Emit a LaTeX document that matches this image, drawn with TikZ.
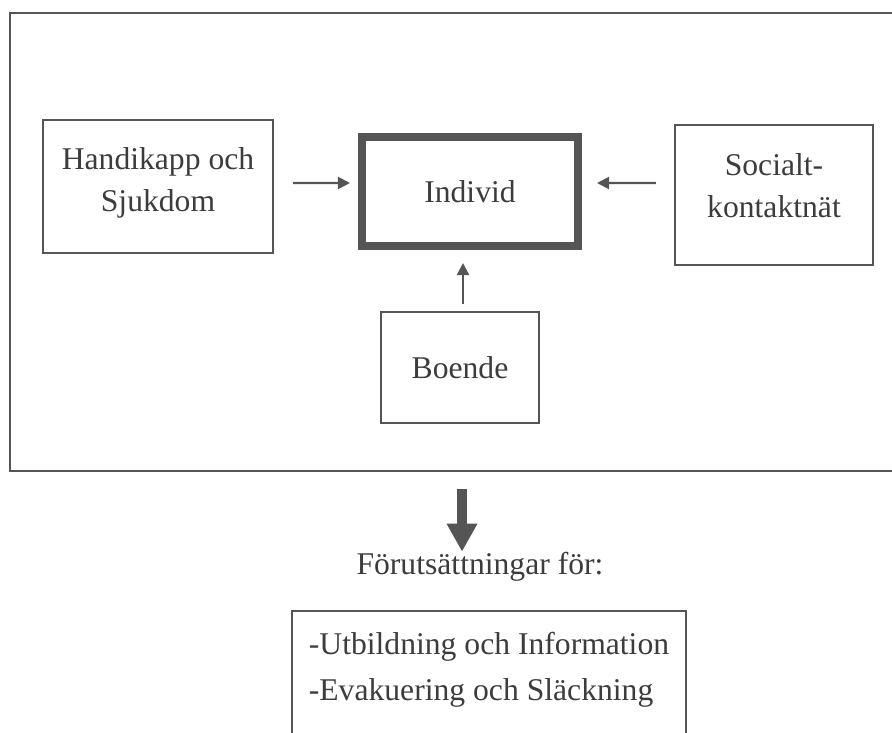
\documentclass[tikz,border=0pt]{standalone}
\usepackage{fontspec}
\setmainfont{Liberation Serif}
\usetikzlibrary{arrows.meta}
\definecolor{ink}{HTML}{555555}
\definecolor{txt}{HTML}{3c3c3c}
\tikzset{
  ruta/.style={draw=ink, line width=1.4pt, text=txt, align=center, font=\fontsize{22.5}{30}\selectfont},
  pil/.style={draw=ink, line width=1.5pt, -{Triangle[length=0.3cm,width=0.3cm]}},
  storpil/.style={draw=ink, line width=0.27cm, -{Triangle[length=0.7cm,width=0.72cm]}}
}
\begin{document}
\begin{tikzpicture}[x=0.025cm,y=-0.025cm]
      \useasboundingbox (0,0) rectangle (892,732);

      % Ram
      \node[ruta, minimum width=22.25cm, minimum height=11.45cm] (ram) at (455,242) {};

      % Faktorer
      \node[ruta, text depth=9.5pt, minimum width=5.75cm, minimum height=3.325cm] (handikapp) at (158,186.5) {Handikapp och\\Sjukdom};
      \node[ruta, line width=0.2cm, minimum width=5.4cm, minimum height=2.725cm] (individ) at (470,191.5) {Individ};
      \node[ruta, text depth=14pt, minimum width=4.95cm, minimum height=3.5cm] (socialt) at (774,195) {Socialt-\\kontaktnät};
      \node[ruta, minimum width=3.95cm, minimum height=2.775cm] (boende) at (460,367.5) {Boende};

      % Pilar
      \draw[pil, shorten <=0.475cm, shorten >=0.2cm] ([yshift=0.0875cm]handikapp.east) -- ([yshift=0.2125cm]individ.west);
      \draw[pil, shorten <=0.45cm, shorten >=0.375cm] ([yshift=0.3cm]socialt.west) -- ([yshift=0.2125cm]individ.east);
      \draw[pil, shorten <=0.175cm, shorten >=0.325cm] ([xshift=0.075cm]boende.north) -- ([xshift=0.075cm]boende.north |- individ.south);

      % Resultat
      \node[text=txt, inner sep=0pt, font=\fontsize{22.5}{30}\selectfont] (forut) at (480,566.5) {Förutsättningar för:};
      \draw[storpil, shorten <=0.425cm] ([xshift=0.175cm]ram.south) -- ([xshift=0.175cm]ram.south |- forut.north);

      \node[ruta, align=left, text depth=27.5pt, font=\fontsize{22.5}{32.7}\selectfont,
            minimum width=9.85cm, minimum height=3.725cm] (villkor) at (489,685.5) {-Utbildning och Information\\-Evakuering och Släckning};
    \end{tikzpicture}
\end{document}
